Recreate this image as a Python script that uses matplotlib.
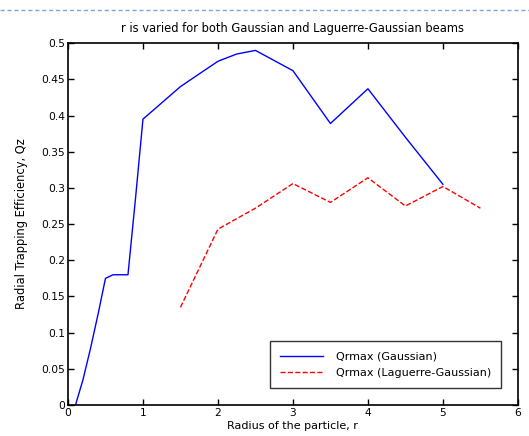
import matplotlib
matplotlib.use("Agg")
import matplotlib.pyplot as plt
from matplotlib.lines import Line2D

plt.rcParams["font.family"] = ["DejaVu Sans"]

# Qrmax for the Gaussian beam
r_gauss = [0.1, 0.2, 0.3, 0.4, 0.5, 0.6, 0.8, 0.9, 1.0, 1.5, 2.0, 2.25, 2.5, 3.0, 3.5, 4.0, 4.5, 5.0]
q_gauss = [0.0, 0.035, 0.078, 0.125, 0.175, 0.18, 0.18, 0.285, 0.395, 0.44, 0.475, 0.485, 0.49,
           0.462, 0.389, 0.437, 0.37, 0.305]

# Qrmax for the Laguerre-Gaussian beam
r_lg = [1.5, 2.0, 2.5, 3.0, 3.5, 4.0, 4.5, 5.0, 5.5]
q_lg = [0.135, 0.243, 0.272, 0.306, 0.28, 0.314, 0.275, 0.302, 0.272]

fs = 8

fig = plt.figure(figsize=(5.29, 4.36), dpi=100)
ax = fig.add_axes([0.1285, 0.071, 0.8505, 0.83])

ax.plot(r_gauss, q_gauss, color="blue", lw=1.0, label="Qrmax (Gaussian)")
ax.plot(r_lg, q_lg, color="red", lw=1.0, ls="--", label="Qrmax (Laguerre-Gaussian)")

ax.set_xlim(0, 6)
ax.set_ylim(0, 0.5)
ax.set_xticks(range(7))
ax.set_yticks([0, 0.05, 0.1, 0.15, 0.2, 0.25, 0.3, 0.35, 0.4, 0.45, 0.5])
ax.set_yticklabels(["0", "0.05", "0.1", "0.15", "0.2", "0.25", "0.3", "0.35", "0.4", "0.45", "0.5"])
ax.tick_params(direction="in", top=True, right=True, labelsize=fs - 0.3, length=4, width=1, pad=2)
for s in ax.spines.values():
    s.set_linewidth(1.2)

ax.set_title("r is varied for both Gaussian and Laguerre-Gaussian beams", fontsize=fs + 0.3, pad=8)
ax.set_xlabel("Radius of the particle, r", fontsize=fs, labelpad=2)
ax.set_ylabel("Radial Trapping Efficiency, Qz", fontsize=fs + 0.3, labelpad=10)

leg = ax.legend(loc="lower right", bbox_to_anchor=(0.975, 0.033), fontsize=fs, frameon=True,
                fancybox=False, edgecolor="black", borderpad=0.9, handlelength=3.8,
                handletextpad=1.2, labelspacing=0.55)
leg.get_frame().set_linewidth(1.0)

# dashed page border line at the top of the screenshot
fig.add_artist(Line2D([0, 1], [0.977, 0.977], transform=fig.transFigure,
                      color="#7aa6e0", lw=1.0, ls="--", dashes=(3, 2)))

fig.savefig("out.png", dpi=100)
